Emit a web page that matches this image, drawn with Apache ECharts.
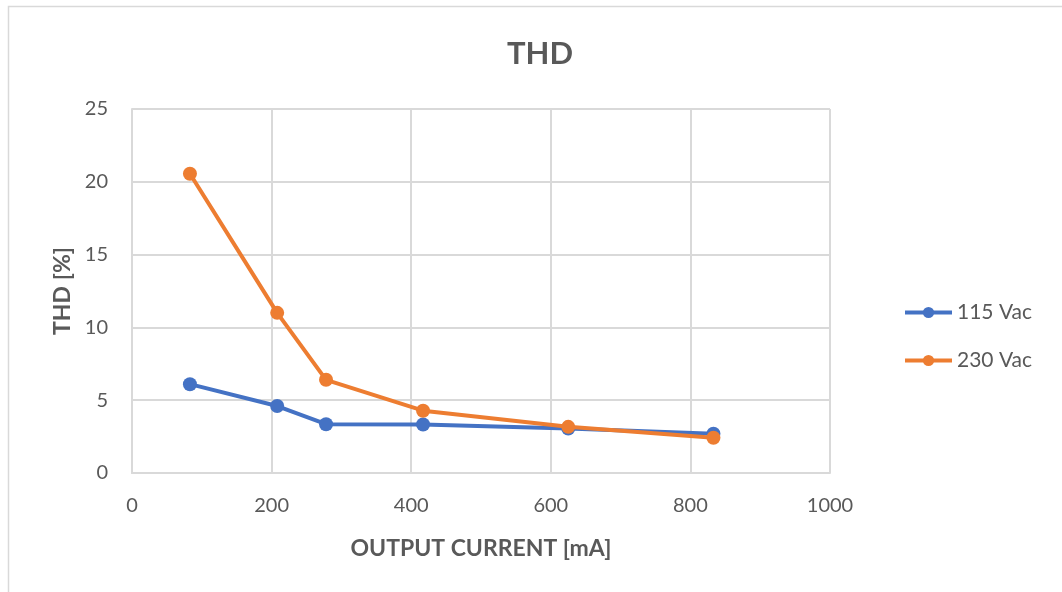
<!DOCTYPE html>
<html>
<head>
<meta charset="utf-8">
<style>
  html, body { margin: 0; padding: 0; background: #ffffff; }
  #chart { width: 1062px; height: 592px; }
</style>
<script src="https://cdn.jsdelivr.net/npm/echarts@6/dist/echarts.min.js"></script>
</head>
<body>
<div id="chart"></div>
<script>
// Output current in mA for each measurement point
const currents = [83, 208, 278, 417, 625, 833];
// THD in percent at 115 Vac input
const thd115 = [6.1, 4.6, 3.35, 3.33, 3.05, 2.7];
// THD in percent at 230 Vac input
const thd230 = [20.55, 11.0, 6.4, 4.28, 3.17, 2.42];
const seriesNames = ['115 Vac', '230 Vac'];
const xTicks = [0, 200, 400, 600, 800, 1000];
const yTicks = [0, 5, 10, 15, 20, 25];

const FONT = 'Lato, "Open Sans", sans-serif';
const TEXT = '#595959';
const GRID = '#D9D9D9';

const chart = echarts.init(document.getElementById('chart'), null, { renderer: 'canvas' });

const pairs = (xs, ys) => xs.map((x, i) => [x, ys[i]]);

chart.setOption({
  backgroundColor: '#ffffff',
  animation: false,
  graphic: [{
    type: 'rect',
    shape: { x: 8.5, y: 6.5, width: 1100, height: 700 },
    style: { fill: 'none', stroke: GRID, lineWidth: 1.5 },
    silent: true
  }],
  title: {
    text: 'THD',
    left: 535,
    top: 33,
    textAlign: 'center',
    textStyle: { fontFamily: FONT, fontSize: 31, fontWeight: 'bold', color: TEXT }
  },
  legend: {
    orient: 'vertical',
    left: 898,
    top: 297,
    itemWidth: 47,
    itemHeight: 14,
    itemGap: 27,
    data: seriesNames,
    lineStyle: { width: 4 },
    textStyle: { fontFamily: FONT, fontSize: 21, color: TEXT, padding: [0, 0, 0, 0] }
  },
  grid: { left: 132, top: 109, width: 698, height: 364, containLabel: false },
  xAxis: {
    type: 'value',
    min: xTicks[0],
    max: xTicks[xTicks.length - 1],
    interval: xTicks[1] - xTicks[0],
    name: 'OUTPUT CURRENT [mA]',
    nameLocation: 'middle',
    nameGap: 64,
    nameTextStyle: { fontFamily: FONT, fontSize: 23, fontWeight: 'bold', color: TEXT },
    axisLine: { show: true, lineStyle: { color: GRID, width: 2 } },
    axisTick: { show: false },
    axisLabel: { fontFamily: FONT, fontSize: 20, color: TEXT, margin: 23, formatter: v => String(v) },
    splitLine: { show: true, lineStyle: { color: GRID, width: 2 } }
  },
  yAxis: {
    type: 'value',
    min: yTicks[0],
    max: yTicks[yTicks.length - 1],
    interval: yTicks[1] - yTicks[0],
    name: 'THD [%]',
    nameLocation: 'middle',
    nameGap: 58,
    nameRotate: 90,
    nameTextStyle: { fontFamily: FONT, fontSize: 23, fontWeight: 'bold', color: TEXT },
    axisLine: { show: true, lineStyle: { color: GRID, width: 2 } },
    axisTick: { show: false },
    axisLabel: { fontFamily: FONT, fontSize: 20, color: TEXT, margin: 24 },
    splitLine: { show: true, lineStyle: { color: GRID, width: 2 } }
  },
  series: [
    {
      name: seriesNames[0],
      type: 'line',
      data: pairs(currents, thd115),
      symbol: 'circle',
      symbolSize: 14,
      lineStyle: { color: '#4472C4', width: 4 },
      itemStyle: { color: '#4472C4' },
      z: 2
    },
    {
      name: seriesNames[1],
      type: 'line',
      data: pairs(currents, thd230),
      symbol: 'circle',
      symbolSize: 14,
      lineStyle: { color: '#ED7D31', width: 4 },
      itemStyle: { color: '#ED7D31' },
      z: 3
    }
  ]
});
</script>
</body>
</html>
